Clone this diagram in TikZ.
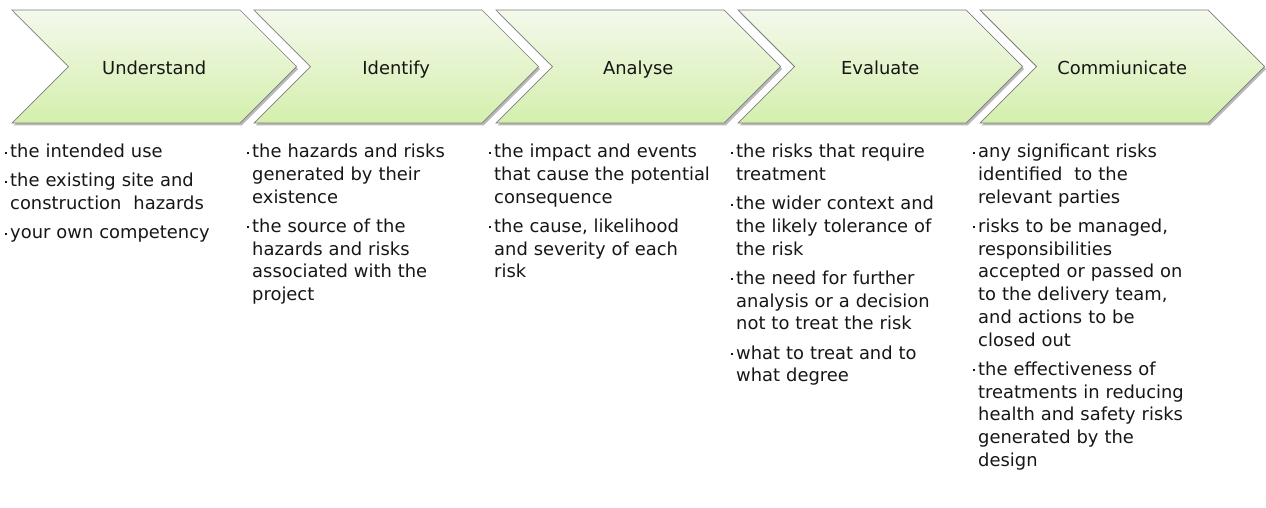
\documentclass[tikz,border=0pt]{standalone}
\usepackage{fontspec}
\setmainfont{DejaVu Sans}
\usetikzlibrary{shadows}

\definecolor{chevtop}{RGB}{244,249,236}
\definecolor{chevbot}{RGB}{212,239,172}
\definecolor{chevline}{RGB}{125,125,125}
\definecolor{ink}{RGB}{22,22,22}

% small square bullet hanging to the left of the item text
\newcommand\bul{\leavevmode\llap{\rule[4pt]{1.9pt}{1.9pt}\hspace{3.4pt}}}
\newcommand\pgap{\\[6.5pt]}

\begin{document}
\begin{tikzpicture}[x=1pt,y=-1pt,
  chevron/.style={top color=chevtop,bottom color=chevbot,draw=chevline,
    line width=0.7pt,line join=miter,
    drop shadow={shadow xshift=1.6pt,shadow yshift=-2.4pt,opacity=0.28,fill=black}},
  steptitle/.style={text=ink,inner sep=0pt,anchor=base,font=\fontsize{17.9pt}{21pt}\selectfont},
  itemcol/.style={text=ink,inner sep=0pt,anchor=base west,text width=238pt,align=left,
    font=\fontsize{17.9pt}{22.75pt}\selectfont}]

\useasboundingbox (0,0) rectangle (1266,507);

% the five process chevrons
\foreach \t [count=\i from 0, evaluate=\i as \xa using 12+242*\i] in
  {Understand,Identify,Analyse,Evaluate,Commiunicate}{
  \path[chevron] (\xa,10) -- ++(228,0) -- ++(56.5,56.5) -- ++(-56.5,56.5)
     -- ++(-228,0) -- ++(56.5,-56.5) -- cycle;
  \node[steptitle] (step\i) at (\xa+142.25,74) {\t};
}

% bullet lists under each step
\node[itemcol] (list0) at (10,157.5) {%
\bul the intended use\pgap
\bul the existing site and\\construction\ \ hazards\pgap
\bul your own competency};

\node[itemcol] (list1) at (252,157.5) {%
\bul the hazards and risks\\generated by their\\existence\pgap
\bul the source of the\\hazards and risks\\associated with the\\project};

\node[itemcol] (list2) at (494,157.5) {%
\bul the impact and events\\that cause the potential\\consequence\pgap
\bul the cause, likelihood\\and severity of each\\risk};

\node[itemcol] (list3) at (736,157.5) {%
\bul the risks that require\\treatment\pgap
\bul the wider context and\\the likely tolerance of\\the risk\pgap
\bul the need for further\\analysis or a decision\\not to treat the risk\pgap
\bul what to treat and to\\what degree};

\node[itemcol] (list4) at (978,157.5) {%
\bul any significant risks\\identified\ \ to the\\relevant parties\pgap
\bul risks to be managed,\\responsibilities\\accepted or passed on\\to the delivery team,\\and actions to be\\closed out\pgap
\bul the effectiveness of\\treatments in reducing\\health and safety risks\\generated by the\\design};

\end{tikzpicture}
\end{document}
